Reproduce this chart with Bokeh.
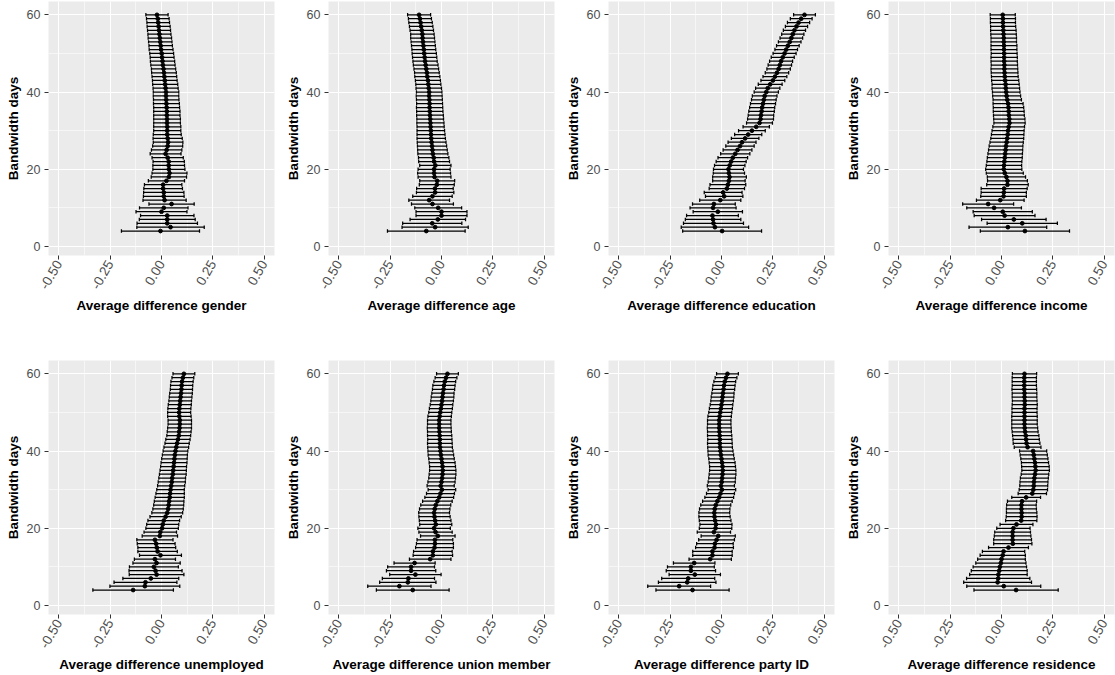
import math
from bokeh.plotting import figure
from bokeh.layouts import column, row
from bokeh.models import Range1d, FixedTicker, PrintfTickFormatter, ColumnDataSource
from bokeh.embed import file_html
from bokeh.resources import INLINE

# ---------------- data ----------------
days = [4, 5, 6, 7, 8, 9, 10, 11, 12, 13, 14, 15, 16, 17, 18, 19, 20,
        21, 22, 23, 24, 25, 26, 27, 28, 29, 30, 31, 32, 33, 34, 35, 36, 37, 38, 39, 40,
        41, 42, 43, 44, 45, 46, 47, 48, 49, 50, 51, 52, 53, 54, 55, 56, 57, 58, 59, 60]

x_ticks = [-0.5, -0.25, 0.0, 0.25, 0.5]
x_minor = [-0.375, -0.125, 0.125, 0.375]
y_ticks = [0, 20, 40, 60]
y_minor = [10, 30, 50]

y_title = "Bandwidth days"

gender_est = [-0.005, 0.044, 0.028, 0.028, 0.028, 0.000, 0.011, 0.049, 0.015, 0.011, 0.011, 0.008, 0.008, 0.024, 0.036, 0.039, 0.036,
              0.035, 0.035, 0.030, 0.020, 0.025, 0.030, 0.032, 0.030, 0.028, 0.028, 0.028, 0.027, 0.027, 0.026, 0.026, 0.025, 0.024, 0.023, 0.022, 0.022,
              0.020, 0.018, 0.016, 0.014, 0.012, 0.010, 0.007, 0.005, 0.003, 0.001, -0.002, -0.004, -0.006, -0.008, -0.010, -0.012, -0.014, -0.016, -0.018, -0.022]
gender_ci = [0.190, 0.164, 0.147, 0.136, 0.130, 0.124, 0.118, 0.110, 0.105, 0.099, 0.098, 0.094, 0.091, 0.088, 0.086, 0.085, 0.078,
             0.077, 0.076, 0.076, 0.075, 0.074, 0.073, 0.072, 0.071, 0.068, 0.066, 0.066, 0.065, 0.065, 0.064, 0.064, 0.063, 0.063, 0.062, 0.062, 0.062,
             0.061, 0.061, 0.060, 0.060, 0.060, 0.059, 0.059, 0.059, 0.058, 0.058, 0.058, 0.057, 0.057, 0.057, 0.056, 0.056, 0.056, 0.055, 0.055, 0.054]

age_est = [-0.074, -0.031, -0.045, -0.018, 0.000, 0.000, -0.016, -0.044, -0.060, -0.044, -0.031, -0.032, -0.023, -0.021, -0.034, -0.036, -0.036,
           -0.030, -0.036, -0.038, -0.042, -0.044, -0.046, -0.048, -0.050, -0.051, -0.052, -0.053, -0.054, -0.055, -0.056, -0.057, -0.058, -0.058, -0.059, -0.060, -0.060,
           -0.062, -0.064, -0.066, -0.069, -0.071, -0.074, -0.077, -0.080, -0.082, -0.084, -0.086, -0.088, -0.090, -0.092, -0.093, -0.096, -0.099, -0.102, -0.105, -0.109]
age_ci = [0.189, 0.161, 0.144, 0.135, 0.124, 0.124, 0.114, 0.102, 0.099, 0.096, 0.091, 0.089, 0.085, 0.085, 0.080, 0.080, 0.078,
          0.076, 0.075, 0.074, 0.073, 0.072, 0.071, 0.070, 0.069, 0.068, 0.067, 0.066, 0.066, 0.065, 0.065, 0.064, 0.064, 0.063, 0.063, 0.063, 0.062,
          0.062, 0.061, 0.061, 0.061, 0.060, 0.060, 0.060, 0.059, 0.059, 0.059, 0.058, 0.058, 0.058, 0.058, 0.057, 0.057, 0.057, 0.057, 0.056, 0.056]

education_est = [0.003, -0.032, -0.039, -0.041, -0.044, -0.018, -0.041, -0.037, -0.006, 0.013, 0.008, 0.026, 0.031, 0.036, 0.039, 0.036, 0.034,
                 0.040, 0.047, 0.055, 0.067, 0.078, 0.090, 0.100, 0.115, 0.130, 0.148, 0.169, 0.185, 0.190, 0.192, 0.195, 0.198, 0.202, 0.206, 0.210, 0.218,
                 0.225, 0.237, 0.250, 0.260, 0.270, 0.278, 0.284, 0.290, 0.298, 0.307, 0.315, 0.323, 0.332, 0.340, 0.347, 0.355, 0.365, 0.375, 0.388, 0.404]
education_ci = [0.192, 0.164, 0.146, 0.135, 0.126, 0.120, 0.112, 0.104, 0.100, 0.091, 0.092, 0.086, 0.087, 0.079, 0.082, 0.076, 0.073,
                0.074, 0.073, 0.072, 0.071, 0.070, 0.069, 0.068, 0.067, 0.066, 0.065, 0.064, 0.063, 0.063, 0.062, 0.062, 0.061, 0.061, 0.060, 0.060, 0.059,
                0.059, 0.058, 0.058, 0.058, 0.057, 0.057, 0.057, 0.056, 0.056, 0.056, 0.055, 0.055, 0.055, 0.055, 0.054, 0.054, 0.054, 0.054, 0.053, 0.053]

income_est = [0.114, 0.031, 0.101, 0.060, 0.015, 0.006, -0.036, -0.065, -0.006, 0.010, 0.011, 0.013, 0.029, 0.029, 0.024, 0.016, 0.011,
              0.012, 0.014, 0.016, 0.018, 0.020, 0.022, 0.025, 0.028, 0.030, 0.032, 0.035, 0.039, 0.038, 0.036, 0.035, 0.034, 0.032, 0.028, 0.025, 0.023,
              0.021, 0.020, 0.018, 0.016, 0.015, 0.014, 0.014, 0.013, 0.013, 0.013, 0.012, 0.012, 0.011, 0.011, 0.010, 0.009, 0.008, 0.007, 0.007, 0.006]
income_ci = [0.217, 0.189, 0.171, 0.157, 0.148, 0.144, 0.133, 0.124, 0.116, 0.111, 0.110, 0.112, 0.101, 0.097, 0.093, 0.090, 0.088,
             0.086, 0.085, 0.085, 0.084, 0.083, 0.082, 0.081, 0.080, 0.079, 0.078, 0.077, 0.076, 0.076, 0.075, 0.075, 0.074, 0.073, 0.069, 0.068, 0.067,
             0.067, 0.066, 0.066, 0.065, 0.065, 0.065, 0.064, 0.064, 0.064, 0.063, 0.063, 0.063, 0.062, 0.062, 0.062, 0.062, 0.061, 0.061, 0.061, 0.061]

unemployed_est = [-0.138, -0.081, -0.078, -0.052, -0.024, -0.029, -0.037, -0.024, -0.032, -0.005, -0.019, -0.023, -0.026, -0.032, -0.008, -0.006, 0.003,
                  0.006, 0.011, 0.020, 0.028, 0.032, 0.035, 0.037, 0.040, 0.042, 0.044, 0.047, 0.050, 0.052, 0.055, 0.057, 0.059, 0.061, 0.063, 0.065, 0.068,
                  0.072, 0.076, 0.080, 0.084, 0.086, 0.088, 0.089, 0.089, 0.087, 0.086, 0.087, 0.089, 0.091, 0.093, 0.095, 0.097, 0.098, 0.100, 0.104, 0.109]
unemployed_ci = [0.196, 0.170, 0.153, 0.136, 0.133, 0.129, 0.119, 0.115, 0.100, 0.102, 0.096, 0.092, 0.092, 0.088, 0.086, 0.079, 0.079,
                 0.078, 0.077, 0.076, 0.075, 0.074, 0.073, 0.072, 0.071, 0.069, 0.067, 0.066, 0.066, 0.065, 0.065, 0.064, 0.063, 0.063, 0.062, 0.061, 0.060,
                 0.060, 0.059, 0.059, 0.058, 0.058, 0.058, 0.057, 0.057, 0.057, 0.056, 0.056, 0.056, 0.055, 0.055, 0.055, 0.054, 0.054, 0.054, 0.053, 0.053]

union_est = [-0.140, -0.205, -0.164, -0.161, -0.127, -0.148, -0.148, -0.131, -0.055, -0.042, -0.042, -0.034, -0.032, -0.032, -0.018, -0.029, -0.036,
             -0.028, -0.031, -0.034, -0.036, -0.033, -0.028, -0.020, -0.011, -0.005, 0.002, -0.004, 0.000, 0.003, 0.005, 0.006, 0.005, 0.003, 0.000, -0.003, -0.005,
             -0.007, -0.008, -0.008, -0.009, -0.010, -0.011, -0.011, -0.011, -0.009, -0.006, -0.003, 0.000, 0.003, 0.005, 0.007, 0.010, 0.012, 0.016, 0.022, 0.029]
union_ci = [0.177, 0.154, 0.137, 0.127, 0.125, 0.120, 0.114, 0.100, 0.101, 0.096, 0.094, 0.092, 0.090, 0.087, 0.084, 0.081, 0.079,
            0.078, 0.077, 0.076, 0.075, 0.074, 0.073, 0.072, 0.070, 0.068, 0.067, 0.066, 0.066, 0.065, 0.065, 0.064, 0.063, 0.063, 0.062, 0.062, 0.061,
            0.060, 0.060, 0.059, 0.059, 0.058, 0.058, 0.057, 0.057, 0.057, 0.056, 0.056, 0.055, 0.055, 0.055, 0.054, 0.054, 0.054, 0.053, 0.053, 0.053]

party_est = [-0.141, -0.206, -0.167, -0.162, -0.130, -0.149, -0.149, -0.133, -0.055, -0.044, -0.044, -0.034, -0.032, -0.024, -0.016, -0.037, -0.029,
             -0.027, -0.031, -0.034, -0.035, -0.033, -0.028, -0.020, -0.011, -0.005, 0.002, -0.003, 0.001, 0.003, 0.005, 0.006, 0.005, 0.003, 0.000, -0.003, -0.005,
             -0.007, -0.008, -0.008, -0.009, -0.010, -0.011, -0.011, -0.011, -0.009, -0.006, -0.003, 0.000, 0.003, 0.005, 0.007, 0.010, 0.012, 0.016, 0.022, 0.029]
party_ci = [0.178, 0.153, 0.140, 0.129, 0.125, 0.120, 0.114, 0.101, 0.103, 0.096, 0.096, 0.092, 0.089, 0.087, 0.083, 0.081, 0.079,
            0.078, 0.077, 0.076, 0.075, 0.074, 0.073, 0.072, 0.070, 0.068, 0.067, 0.066, 0.066, 0.065, 0.065, 0.064, 0.063, 0.063, 0.062, 0.062, 0.061,
            0.060, 0.060, 0.059, 0.059, 0.058, 0.058, 0.057, 0.057, 0.057, 0.056, 0.056, 0.055, 0.055, 0.055, 0.054, 0.054, 0.054, 0.053, 0.053, 0.053]

residence_est = [0.071, 0.011, -0.019, -0.016, -0.015, -0.011, -0.008, -0.003, 0.000, 0.006, 0.010, 0.034, 0.055, 0.054, 0.054, 0.054, 0.058,
                 0.073, 0.096, 0.098, 0.098, 0.097, 0.097, 0.100, 0.120, 0.150, 0.155, 0.157, 0.158, 0.160, 0.163, 0.166, 0.165, 0.163, 0.160, 0.157, 0.154,
                 0.127, 0.122, 0.120, 0.118, 0.115, 0.113, 0.112, 0.112, 0.112, 0.112, 0.112, 0.113, 0.113, 0.112, 0.112, 0.111, 0.111, 0.111, 0.111, 0.112]
residence_ci = [0.205, 0.180, 0.165, 0.154, 0.140, 0.136, 0.130, 0.122, 0.116, 0.110, 0.103, 0.097, 0.093, 0.092, 0.089, 0.087, 0.081,
                0.080, 0.076, 0.075, 0.074, 0.073, 0.072, 0.071, 0.070, 0.069, 0.069, 0.068, 0.068, 0.068, 0.067, 0.067, 0.067, 0.066, 0.066, 0.066, 0.066,
                0.065, 0.065, 0.064, 0.064, 0.063, 0.063, 0.062, 0.062, 0.062, 0.061, 0.061, 0.061, 0.060, 0.060, 0.060, 0.060, 0.059, 0.059, 0.059, 0.059]

x_titles = ["Average difference gender", "Average difference age",
            "Average difference education", "Average difference income",
            "Average difference unemployed", "Average difference union member",
            "Average difference party ID", "Average difference residence"]
series = [(gender_est, gender_ci), (age_est, age_ci), (education_est, education_ci), (income_est, income_ci),
          (unemployed_est, unemployed_ci), (union_est, union_ci), (party_est, party_ci), (residence_est, residence_ci)]

FONT = "Liberation Sans"
CAP = 0.45  # half height of the error-bar caps, in days


def make_panel(xlabel, est, ci, width, height, top, bottom, right):
    lo = [e - c for e, c in zip(est, ci)]
    hi = [e + c for e, c in zip(est, ci)]
    src = ColumnDataSource(dict(day=days, est=est, lo=lo, hi=hi,
                                cap0=[d - CAP for d in days], cap1=[d + CAP for d in days]))
    p = figure(width=width, height=height,
               x_range=Range1d(-0.55, 0.55), y_range=Range1d(-2.34, 63.46),
               output_backend="svg", toolbar_location=None,
               min_border_left=48, min_border_right=right,
               min_border_top=top, min_border_bottom=bottom)
    p.background_fill_color = "#EBEBEB"
    p.border_fill_color = "white"
    p.outline_line_color = None

    p.xaxis.ticker = FixedTicker(ticks=x_ticks, minor_ticks=x_minor)
    p.yaxis.ticker = FixedTicker(ticks=y_ticks, minor_ticks=y_minor)
    p.xaxis.formatter = PrintfTickFormatter(format="%.2f")
    for g in (p.xgrid, p.ygrid):
        g.grid_line_color = "white"
        g.grid_line_width = 1.1
        g.minor_grid_line_color = "white"
        g.minor_grid_line_width = 0.55

    for ax in (p.xaxis, p.yaxis):
        ax.axis_line_color = None
        ax.major_tick_line_color = "#333333"
        ax.major_tick_in = 0
        ax.major_tick_out = 4
        ax.minor_tick_line_color = None
        ax.major_label_text_font = FONT
        ax.major_label_text_font_size = "12.5px"
        ax.major_label_text_color = "#4D4D4D"
        ax.axis_label_text_font = FONT
        ax.axis_label_text_font_size = "13.5px"
        ax.axis_label_text_font_style = "bold"
        ax.axis_label_text_color = "black"

    p.xaxis.axis_label = xlabel
    p.xaxis.major_label_text_font_size = "13.5px"
    p.xaxis.major_label_orientation = math.pi / 3
    p.xaxis.major_label_standoff = 2
    p.xaxis.axis_label_standoff = 2
    p.yaxis.axis_label = y_title
    p.yaxis.major_label_standoff = 4
    p.yaxis.axis_label_standoff = 3

    p.segment(x0="lo", y0="day", x1="hi", y1="day", source=src, line_color="black", line_width=1.25)
    p.segment(x0="lo", y0="cap0", x1="lo", y1="cap1", source=src, line_color="black", line_width=1.25)
    p.segment(x0="hi", y0="cap0", x1="hi", y1="cap1", source=src, line_color="black", line_width=1.25)
    p.scatter(x="est", y="day", source=src, size=3.8, color="black")
    return p


widths = [280, 280, 280, 275]
rights = [6, 6, 6, 1]
rows = []
for r in range(2):
    figs = []
    for c in range(4):
        i = r * 4 + c
        if r == 0:
            h, t, b = 319, 1, 64
        else:
            h, t, b = 356, 41, 61
        figs.append(make_panel(x_titles[i], series[i][0], series[i][1], widths[c], h, t, b, rights[c]))
    rows.append(row(*figs))

layout = column(*rows)
open("out.html", "w").write(file_html(layout, INLINE))
